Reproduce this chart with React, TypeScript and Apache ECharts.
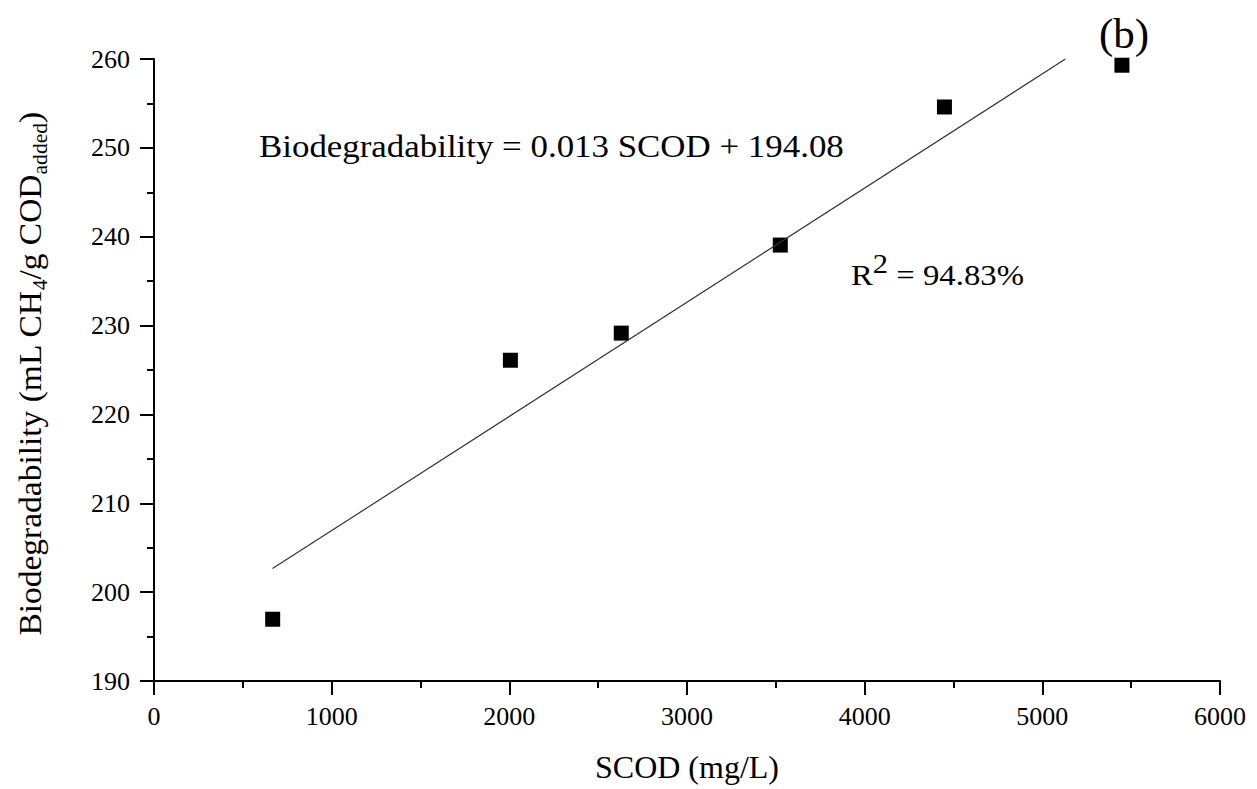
import React, { useEffect, useRef } from "react";
import * as echarts from "echarts";

const scodValues = [668, 2006, 2630, 3525, 4449, 5448];
const biodegValues = [196.95, 226.1, 229.15, 239.06, 254.6, 259.3];
const fitLineX = [667, 5130];
const fitLineY = [202.65, 260];
const xTicks = { min: 0, max: 6000, interval: 1000 };
const yTicks = { min: 190, max: 260, interval: 10 };
const equationText = "Biodegradability = 0.013 SCOD + 194.08";
const r2Text = "94.83%";
const panelLabel = "(b)";
const xTitle = "SCOD (mg/L)";

const FONT = "'Liberation Serif', 'Times New Roman', serif";

export default function App() {
  const ref = useRef<HTMLDivElement>(null);
  useEffect(() => {
    if (!ref.current) return;
    const chart = echarts.init(ref.current, undefined, { renderer: "svg" });
    const points = scodValues.map((x, i) => [x, biodegValues[i]]);
    const fit = fitLineX.map((x, i) => [x, fitLineY[i]]);
    const axisLine = { show: true, lineStyle: { color: "#000", width: 2 } };
    const axisTick = { show: true, inside: false, length: 14, lineStyle: { color: "#000", width: 2 } };
    const minorTick = { show: true, splitNumber: 2, length: 7, lineStyle: { color: "#000", width: 2 } };
    chart.setOption({
      animation: false,
      backgroundColor: "#fff",
      grid: { left: 154, right: 37, top: 59, bottom: 108, containLabel: false },
      xAxis: {
        type: "value",
        min: xTicks.min,
        max: xTicks.max,
        interval: xTicks.interval,
        axisLine,
        axisTick,
        minorTick,
        splitLine: { show: false },
        axisLabel: {
          color: "#000",
          fontFamily: FONT,
          fontSize: 26,
          margin: 22,
          formatter: (v: number) => String(v),
        },
        name: xTitle,
        nameLocation: "middle",
        nameGap: 70,
        nameTextStyle: { color: "#000", fontFamily: FONT, fontSize: 32 },
      },
      yAxis: {
        type: "value",
        min: yTicks.min,
        max: yTicks.max,
        interval: yTicks.interval,
        axisLine,
        axisTick,
        minorTick,
        splitLine: { show: false },
        axisLabel: {
          color: "#000",
          fontFamily: FONT,
          fontSize: 26,
          margin: 24,
          formatter: (v: number) => String(v),
        },
      },
      graphic: [
        {
          type: "text",
          x: 30,
          y: 374,
          rotation: Math.PI / 2,
          scaleX: 1.08,
          style: {
            text: "{m|Biodegradability (mL CH}{s|4}{m|/g COD}{s|added}{m|)}",
            align: "center",
            verticalAlign: "middle",
            fontFamily: FONT,
            fill: "#000",
            rich: {
              m: { fontFamily: FONT, fontSize: 31, lineHeight: 40, fill: "#000", verticalAlign: "middle" },
              s: { fontFamily: FONT, fontSize: 20, lineHeight: 20, fill: "#000", verticalAlign: "bottom" },
            },
          },
        },
        {
          type: "text",
          x: 259,
          y: 130,
          scaleX: 1.09,
          style: { text: equationText, fontFamily: FONT, fontSize: 32, fill: "#000" },
        },
        {
          type: "text",
          x: 851,
          y: 250,
          scaleX: 1.13,
          style: {
            text: "{m|R}{p|2}{m| = " + r2Text + "}",
            fontFamily: FONT,
            fill: "#000",
            rich: {
              m: { fontFamily: FONT, fontSize: 29, lineHeight: 40, verticalAlign: "bottom", fill: "#000" },
              p: { fontFamily: FONT, fontSize: 27, lineHeight: 27, verticalAlign: "top", fill: "#000" },
            },
          },
        },
        {
          type: "text",
          x: 1099,
          y: 12,
          style: { text: panelLabel, fontFamily: FONT, fontSize: 43, fill: "#000" },
        },
      ],
      series: [
        {
          type: "line",
          data: fit,
          symbol: "none",
          lineStyle: { color: "#333", width: 1.2 },
          silent: true,
        },
        {
          type: "scatter",
          data: points,
          symbol: "rect",
          symbolSize: 15,
          itemStyle: { color: "#000", opacity: 1 },
          clip: false,
        },
      ],
    });
    return () => chart.dispose();
  }, []);
  return (
    <div
      ref={ref}
      style={{ position: "fixed", left: 0, top: 0, width: 1257, height: 789, background: "#fff" }}
    />
  );
}
